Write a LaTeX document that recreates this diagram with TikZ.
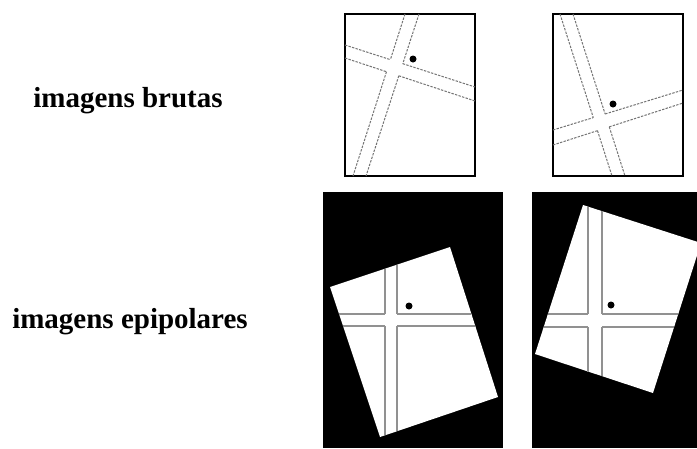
\documentclass[tikz,border=0pt]{standalone}
\usepackage{fontspec}
\setmainfont{Liberation Serif}
\usepackage{tikz}
\usetikzlibrary{positioning}
\definecolor{roadgray}{RGB}{115,115,115}
\definecolor{epigray}{RGB}{145,145,145}
\tikzset{
  rowtext/.style    = {font=\fontsize{29}{34}\selectfont\bfseries, anchor=base, inner sep=0pt},
  frame/.style      = {draw=black, line width=1.4pt},
  sketchroad/.style = {draw=roadgray, line width=1pt, dash pattern=on 2.4pt off 1.3pt},
  epiroad/.style    = {draw=epigray, line width=1.4pt},
  target/.style     = {circle, fill=black, inner sep=0pt, minimum size=7pt},
}

\begin{document}
\begin{tikzpicture}[x=1pt,y=-1pt]
  \useasboundingbox (0,0) rectangle (697,448);
  \fill[white] (0,0) rectangle (697,448);

  % row labels
  \node[rowtext] (raw) at (128,107) {imagens brutas};
  \node[rowtext] (epi) at (130,328) {imagens epipolares};

  % raw image, left
  \draw[frame] (345,14) rectangle (475,176);
  \coordinate (la1) at (405,14);  \coordinate (la2) at (353,176);
  \coordinate (lb1) at (419,14);  \coordinate (lb2) at (366,176);
  \coordinate (lc1) at (345,45);  \coordinate (lc2) at (475,87);
  \coordinate (ld1) at (345,58);  \coordinate (ld2) at (475,101);
  \coordinate (lac) at (intersection of la1--la2 and lc1--lc2);
  \coordinate (lad) at (intersection of la1--la2 and ld1--ld2);
  \coordinate (lbc) at (intersection of lb1--lb2 and lc1--lc2);
  \coordinate (lbd) at (intersection of lb1--lb2 and ld1--ld2);
  \draw[sketchroad] (la1) -- (lac) (lad) -- (la2);
  \draw[sketchroad] (lb1) -- (lbc) (lbd) -- (lb2);
  \draw[sketchroad] (lc1) -- (lac) (lbc) -- (lc2);
  \draw[sketchroad] (ld1) -- (lad) (lbd) -- (ld2);
  \node[target] (lpt) at (413,59) {};

  % raw image, right
  \draw[frame] (553,14) rectangle (683,176);
  \coordinate (ra1) at (560,14);  \coordinate (ra2) at (612,176);
  \coordinate (rb1) at (573,14);  \coordinate (rb2) at (625,176);
  \coordinate (rc1) at (553,130); \coordinate (rc2) at (683,90);
  \coordinate (rd1) at (553,145); \coordinate (rd2) at (683,103);
  \coordinate (rac) at (intersection of ra1--ra2 and rc1--rc2);
  \coordinate (rad) at (intersection of ra1--ra2 and rd1--rd2);
  \coordinate (rbc) at (intersection of rb1--rb2 and rc1--rc2);
  \coordinate (rbd) at (intersection of rb1--rb2 and rd1--rd2);
  \draw[sketchroad] (ra1) -- (rac) (rad) -- (ra2);
  \draw[sketchroad] (rb1) -- (rbc) (rbd) -- (rb2);
  \draw[sketchroad] (rc1) -- (rac) (rbc) -- (rc2);
  \draw[sketchroad] (rd1) -- (rad) (rbd) -- (rd2);
  \node[target] (rpt) at (613,104) {};

  % epipolar image, left
  \fill[black] (323,192) rectangle (503,448);
  \fill[white] (330,287) -- (450,247) -- (498,397) -- (380,437) -- cycle;
  \draw[epiroad] (385,268.7) -- (385,314) (385,326) -- (385,435.3);
  \draw[epiroad] (397,264.7) -- (397,314) (397,326) -- (397,431.2);
  \draw[epiroad] (339,314) -- (385,314) (397,314) -- (471.4,314);
  \draw[epiroad] (343,326) -- (385,326) (397,326) -- (475.3,326);
  \node[target] (lept) at (409,306) {};

  % epipolar image, right
  \begin{scope}
    \clip (532,192) rectangle (697,448);
    \fill[black] (532,192) rectangle (697,448);
    \fill[white] (583,205) -- (701,243) -- (653,393) -- (535,354) -- cycle;
    \draw[epiroad] (588,206.6) -- (588,314) (588,327) -- (588,371.5);
    \draw[epiroad] (602,211.1) -- (602,314) (602,327) -- (602,376.1);
    \draw[epiroad] (547.9,314) -- (588,314) (602,314) -- (678.3,314);
    \draw[epiroad] (543.7,327) -- (588,327) (602,327) -- (674.1,327);
  \end{scope}
  \node[target] (rept) at (611,305) {};
\end{tikzpicture}
\end{document}
